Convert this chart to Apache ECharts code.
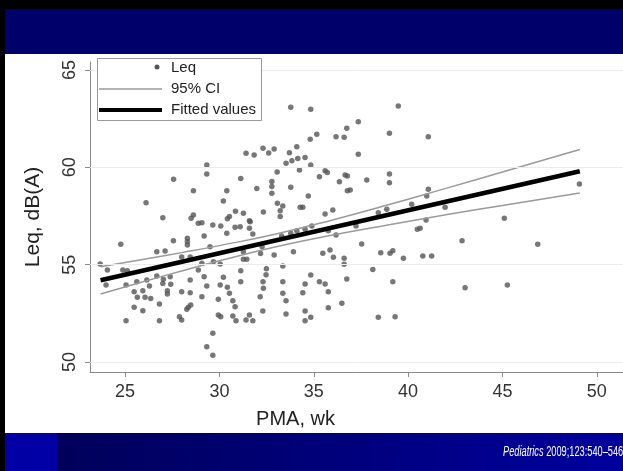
<!DOCTYPE html>
<html><head><meta charset="utf-8">
<script src="https://cdn.jsdelivr.net/npm/echarts@6/dist/echarts.min.js"></script>
<style>html,body{margin:0;padding:0;background:#fff}#c{width:623px;height:471px}</style>
</head><body><div id="c"></div>
<script>
// Scatter: PMA (wk) and Leq dB(A)
const pma = [31.41,31.84,32.31,32.61,32.90,29.33,29.33,27.57,31.13,33.06,32.78,28.62,30.39,31.98,26.11,30.21,32.33,30.85,31.27,27.00,
28.50,28.62,30.42,30.53,31.59,28.88,29.07,29.65,30.07,30.83,31.10,31.59,30.39,31.77,29.19,27.56,28.30,28.30,28.30,24.77,
26.68,27.12,29.50,32.26,32.18,31.27,28.00,28.45,23.68,29.68,30.04,24.06,24.88,25.12,29.07,31.27,31.45,28.88,31.13,32.49,
23.99,25.05,25.62,26.15,26.68,27.03,27.39,28.45,29.19,30.21,31.13,32.47,32.31,26.29,27.00,27.42,29.33,30.04,30.42,32.33,
25.48,25.94,27.24,27.24,28.00,28.45,30.53,25.65,26.06,26.36,29.07,29.94,30.71,32.16,26.82,28.48,25.48,28.35,28.27,30.83,
25.94,32.30,29.94,30.07,30.71,31.59,25.05,26.82,27.88,28.00,30.88,31.41,31.77,29.65,29.33,29.65,
33.78,34.84,39.48,37.36,36.75,35.16,34.81,36.18,36.61,39.01,41.07,34.10,33.71,37.36,34.15,34.54,33.84,33.53,34.84,34.24,
35.60,35.72,35.30,36.66,36.78,39.01,36.36,37.81,39.01,32.78,32.78,33.78,36.78,36.93,34.71,33.07,33.36,34.28,34.42,33.22,
33.22,36.01,35.60,38.42,38.87,40.19,40.99,40.95,31.63,34.90,34.54,34.10,33.78,33.30,35.77,37.24,36.18,40.49,37.54,32.90,
33.92,35.48,35.86,36.04,36.61,38.55,39.04,39.19,39.75,40.78,36.61,33.36,34.84,38.13,36.75,33.36,34.54,35.30,35.60,39.19,
35.77,33.36,34.42,33.53,36.49,35.77,33.53,34.54,34.84,34.54,38.42,39.31,41.25,41.07,41.96,40.64,45.10,49.08,42.86,46.87,
43.02,45.26];
const leq = [60.72,60.63,60.98,60.74,60.94,60.12,59.66,59.39,59.43,59.76,59.27,58.80,58.80,58.92,58.18,58.27,57.71,57.74,57.64,57.41,
57.38,57.55,57.36,57.47,57.26,57.13,57.16,57.04,56.99,56.92,56.95,56.87,56.61,56.58,56.47,56.23,56.36,56.18,56.01,56.05,
55.67,55.70,55.92,55.92,55.57,55.67,55.40,55.40,55.04,55.15,55.04,54.73,54.73,54.69,55.07,55.28,55.28,54.73,54.69,54.79,
53.96,53.96,54.13,54.21,54.42,54.25,54.38,54.21,54.38,54.35,54.13,54.49,54.13,53.91,54.04,53.99,53.91,53.96,53.84,53.79,
53.61,53.66,53.66,53.50,53.61,53.56,53.53,53.33,53.33,53.27,53.36,53.22,53.15,53.36,52.98,52.93,52.81,52.81,52.71,52.84,
52.64,52.62,52.42,52.33,52.37,52.42,52.12,52.12,52.33,52.16,52.12,52.16,52.12,51.48,50.79,50.35,
63.08,62.98,63.15,62.34,62.01,61.70,61.44,61.57,61.54,61.75,61.57,61.06,60.75,60.67,60.46,60.50,60.34,60.21,60.12,59.86,
59.83,59.73,59.52,59.61,59.56,59.66,59.26,59.35,59.21,59.01,58.67,58.98,58.80,58.84,58.53,58.15,58.02,57.95,57.95,57.77,
57.47,57.81,57.60,57.67,57.85,58.10,58.53,57.30,57.21,56.99,56.82,56.75,56.61,56.47,56.75,56.99,56.53,56.82,56.06,55.50,
55.67,55.59,55.76,55.38,55.33,55.62,55.59,55.72,55.33,55.45,55.02,54.93,54.47,54.76,54.27,54.13,54.01,54.13,54.01,54.13,
53.61,53.53,53.56,53.15,53.02,52.79,52.47,52.62,52.30,52.12,52.30,52.33,55.45,58.87,57.95,56.87,57.38,59.14,56.23,56.05,
53.82,53.96];
// Fitted line and 95% CI
const fitX = [23.7, 49.1];
const fitY = [54.2, 59.8];
const ciX = [23.7, 26, 28, 30, 33, 36, 39, 42, 45, 49.1];
const ciUpper = [54.9, 55.28, 55.62, 55.98, 56.58, 57.30, 58.09, 58.92, 59.76, 60.92];
const ciLower = [53.5, 54.14, 54.68, 55.20, 55.92, 56.52, 57.05, 57.56, 58.04, 58.68];
const xTicks = [25, 30, 35, 40, 45, 50];
const yTicks = [50, 55, 60, 65];
const citeItalic = 'Pediatrics';
const citeRest = ' 2009;123:540–546';

const chart = echarts.init(document.getElementById('c'), null, {renderer: 'canvas'});
const axisGray = '#8a8a8a';
const font = 'Liberation Sans, Arial, sans-serif';
chart.setOption({
  animation: false,
  backgroundColor: '#fff',
  grid: {left: 90, right: 0, top: 62, bottom: 99, containLabel: false, outerBoundsMode: 'none'},
  xAxis: {
    type: 'value', min: 23.14, max: 51.39,
    name: 'PMA, wk', nameLocation: 'middle', nameGap: 37,
    nameTextStyle: {fontSize: 20, color: '#222', fontFamily: font, padding: [0, 122, 0, 0]},
    axisLine: {lineStyle: {color: axisGray, width: 1}},
    axisTick: {customValues: xTicks, length: 5, lineStyle: {color: axisGray}},
    axisLabel: {customValues: xTicks, fontSize: 18, color: '#333', margin: 11, fontFamily: font},
    splitLine: {show: false}
  },
  yAxis: {
    type: 'value', min: 49.49, max: 65.41,
    name: 'Leq, dB(A)', nameLocation: 'middle', nameGap: 46,
    nameTextStyle: {fontSize: 21, color: '#222', fontFamily: font},
    axisLine: {show: true, lineStyle: {color: axisGray, width: 1}},
    axisTick: {show: true, customValues: yTicks, length: 5, lineStyle: {color: axisGray}},
    axisLabel: {customValues: yTicks, rotate: 90, fontSize: 18, color: '#333', margin: 11, fontFamily: font},
    splitLine: {show: false}
  },
  series: [
    {name: 'Leq', type: 'scatter', symbol: 'circle', symbolSize: 5.5,
     itemStyle: {color: '#555'}, z: 3,
     data: pma.map((x, i) => [x, leq[i]]),
     markLine: {silent: true, symbol: 'none', label: {show: false},
       lineStyle: {color: '#ececec', type: 'solid', width: 1},
       data: yTicks.map(v => ({yAxis: v}))}},
    {name: '95% CI', type: 'line', smooth: true, showSymbol: false, z: 4,
     lineStyle: {color: '#9a9a9a', width: 1.5},
     data: ciX.map((x, i) => [x, ciUpper[i]])},
    {name: '95% CI', type: 'line', smooth: true, showSymbol: false, z: 4,
     lineStyle: {color: '#9a9a9a', width: 1.5},
     data: ciX.map((x, i) => [x, ciLower[i]])},
    {name: 'Fitted values', type: 'line', showSymbol: false, z: 5,
     lineStyle: {color: '#000', width: 4.5},
     data: fitX.map((x, i) => [x, fitY[i]])}
  ],
  graphic: [
    {type: 'rect', z: 100, shape: {x: 0, y: 0, width: 623, height: 9}, style: {fill: '#000'}},
    {type: 'rect', z: 100, shape: {x: 0, y: 0, width: 5, height: 471}, style: {fill: '#000'}},
    {type: 'rect', z: 100, shape: {x: 5, y: 9, width: 618, height: 45}, style: {fill: '#00006a'}},
    {type: 'rect', z: 100, shape: {x: 5, y: 433, width: 52, height: 38}, style: {fill: '#0000a4'}},
    {type: 'rect', z: 100, shape: {x: 57, y: 433, width: 566, height: 38},
     style: {fill: new echarts.graphic.LinearGradient(0, 0, 1, 0, [{offset: 0, color: '#00005a'}, {offset: 1, color: '#00009e'}])}},
    {type: 'text', z: 101, x: 503, y: 452, scaleX: 0.66,
     style: {text: '{i|' + citeItalic + '}' + citeRest, fill: '#fff', fontSize: 14, fontFamily: font,
       verticalAlign: 'middle', align: 'left',
       rich: {i: {fontStyle: 'italic', fontSize: 14, fill: '#fff', fontFamily: font}}}},
    // legend
    {type: 'rect', z: 50, shape: {x: 97.5, y: 58.5, width: 164, height: 62}, style: {fill: '#fff', stroke: '#999', lineWidth: 1}},
    {type: 'circle', z: 51, shape: {cx: 157, cy: 67, r: 2.5}, style: {fill: '#555'}},
    {type: 'text', z: 51, x: 171, y: 68, style: {text: 'Leq', fontSize: 15, fill: '#222', fontFamily: font, verticalAlign: 'middle'}},
    {type: 'line', z: 51, shape: {x1: 99, y1: 89, x2: 162, y2: 89}, style: {stroke: '#9a9a9a', lineWidth: 1.5}},
    {type: 'text', z: 51, x: 171, y: 89, style: {text: '95% CI', fontSize: 15, fill: '#222', fontFamily: font, verticalAlign: 'middle'}},
    {type: 'line', z: 51, shape: {x1: 99, y1: 110, x2: 162, y2: 110}, style: {stroke: '#000', lineWidth: 4}},
    {type: 'text', z: 51, x: 171, y: 110, style: {text: 'Fitted values', fontSize: 15, fill: '#222', fontFamily: font, verticalAlign: 'middle'}}
  ]
});
</script>
</body></html>
